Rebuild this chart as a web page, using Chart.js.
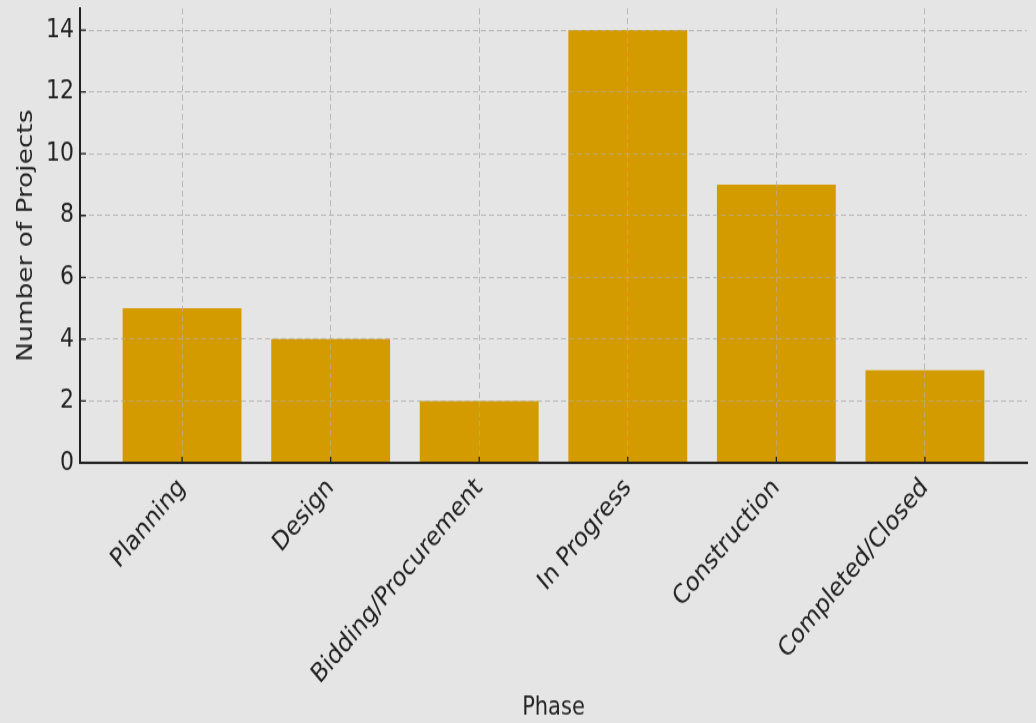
<!DOCTYPE html>
<html>
<head>
<meta charset="utf-8">
<script src="https://cdn.jsdelivr.net/npm/chart.js@4.4.1/dist/chart.umd.min.js"></script>
<style>
  html, body { margin: 0; padding: 0; background: #e5e5e5; overflow: hidden; }
  canvas { display: block; }
</style>
</head>
<body>
<!-- bitmap is drawn at 603px tall and stretched to 723px, like the reference image -->
<canvas id="phaseChart" width="1036" height="603" style="width:1036px;height:723px"></canvas>
<script>
const phases = [
  "Planning",
  "Design",
  "Bidding/Procurement",
  "In Progress",
  "Construction",
  "Completed/Closed"
];

const projectCounts = [5, 4, 2, 14, 9, 3];

const yTicks = [0, 2, 4, 6, 8, 10, 12, 14];

const textColor = "#222222";
const gridColor = "rgba(175,175,175,0.6)";

// matplotlib draws the grid over the bars and the ticks inward
const overlayPlugin = {
  id: "overlay",
  afterDatasetsDraw(chart) {
    const { ctx, chartArea, scales } = chart;
    scales.x.drawGrid(chartArea);
    scales.y.drawGrid(chartArea);
    scales.x.drawBorder();
    scales.y.drawBorder();

    ctx.save();
    ctx.strokeStyle = textColor;
    ctx.lineWidth = 1.3;
    ctx.setLineDash([]);
    ctx.beginPath();
    scales.x.ticks.forEach(t => {
      const px = scales.x.getPixelForValue(t.value);
      ctx.moveTo(px, chartArea.bottom);
      ctx.lineTo(px, chartArea.bottom - 5);
    });
    scales.y.ticks.forEach(t => {
      const py = scales.y.getPixelForValue(t.value);
      ctx.moveTo(chartArea.left, py);
      ctx.lineTo(chartArea.left + 6, py);
    });
    ctx.stroke();
    ctx.restore();
  }
};

new Chart(document.getElementById("phaseChart"), {

  type: "bar",

  data: {
    datasets: [{
      label: "Number of Projects",
      data: projectCounts.map((v, i) => ({ x: i, y: v })),
      backgroundColor: "#d49b00",
      borderWidth: 0,
      barPercentage: 0.8,
      categoryPercentage: 1.0
    }]
  },

  options: {
    responsive: false,
    animation: false,
    devicePixelRatio: 1,

    layout: {
      padding: { left: 0, right: 9, top: 7, bottom: 0 }
    },

    plugins: {
      legend: { display: false },
      tooltip: { enabled: false }
    },

    scales: {

      x: {
        type: "linear",
        offset: false,
        min: -0.687,
        max: 5.687,
        afterBuildTicks(axis) {
          axis.ticks = phases.map((p, i) => ({ value: i }));
        },
        afterFit(axis) {
          axis.height = 217;
        },
        ticks: {
          autoSkip: false,
          minRotation: 45,
          maxRotation: 45,
          padding: 8,
          color: textColor,
          font: { family: "DejaVu Sans", size: 22 },
          callback: v => phases[v]
        },
        grid: {
          offset: false,
          color: gridColor,
          lineWidth: 1,
          drawTicks: false
        },
        border: {
          display: true,
          color: textColor,
          width: 2,
          dash: [5, 3]
        },
        title: {
          display: true,
          text: "Phase",
          color: textColor,
          padding: { top: 0, bottom: 0 },
          font: { family: "DejaVu Sans", size: 21 }
        }
      },

      y: {
        min: 0,
        max: 14.7,
        afterBuildTicks(axis) {
          axis.ticks = yTicks.map(v => ({ value: v }));
        },
        afterFit(axis) {
          axis.width = 80;
          axis.paddingTop = 0;
          axis.paddingBottom = 0;
        },
        ticks: {
          padding: 6,
          color: textColor,
          font: { family: "DejaVu Sans", size: 22 }
        },
        grid: {
          color: ctx => ctx.tick && ctx.tick.value === 0 ? "rgba(0,0,0,0)" : gridColor,
          lineWidth: 1,
          drawTicks: false
        },
        border: {
          display: true,
          color: textColor,
          width: 2,
          dash: [5, 3]
        },
        title: {
          display: true,
          text: "Number of Projects",
          color: textColor,
          padding: { top: 13, bottom: 0 },
          font: { family: "DejaVu Sans", size: 22 }
        }
      }
    }
  },

  plugins: [overlayPlugin]
});
</script>
</body>
</html>
